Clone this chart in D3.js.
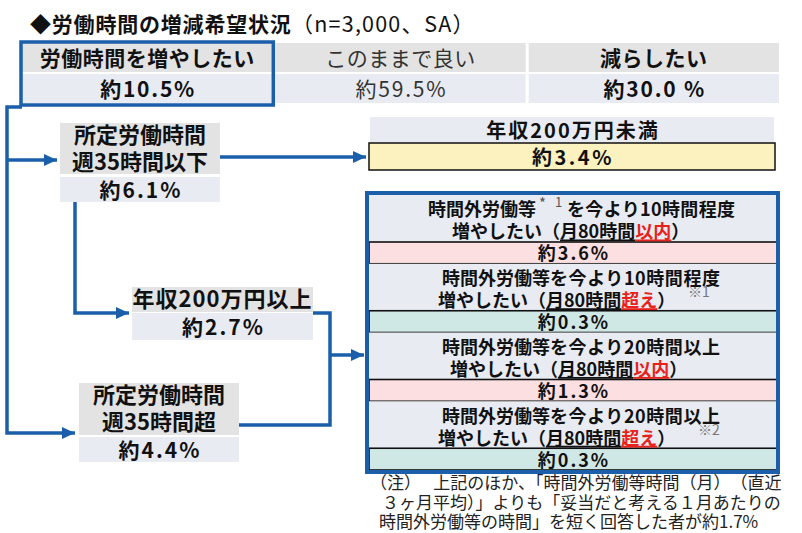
<!DOCTYPE html>
<html>
<head>
<meta charset="utf-8">
<script src="https://cdn.jsdelivr.net/npm/d3@7"></script>
<style>
  html, body { margin: 0; padding: 0; background: #fff; }
  svg { display: block; font-family: "Noto Sans CJK JP", "Noto Sans", sans-serif; }
</style>
</head>
<body>
<div id="chart"></div>
<script>
// Chart values
const titleMain = "◆労働時間の増減希望状況";
const titleSub = "（n=3,000、SA）";

const topLabels = ["労働時間を増やしたい", "このままで良い", "減らしたい"];
const topValues = [10.5, 59.5, 30.0];
const topBold = [true, false, true];
const topPctGap = ["", "", " "];

const branchLabels = [["所定労働時間", "週35時間以下"], ["年収200万円以上"], ["所定労働時間", "週35時間超"]];
const branchValues = [6.1, 2.7, 4.4];

const lowIncomeLabel = "年収200万円未満";
const lowIncomeValue = 3.4;

const wishHours = ["10時間程度", "10時間程度", "20時間以上", "20時間以上"];
const wishLimit = ["以内", "超え", "以内", "超え"];
const wishValues = [3.6, 0.3, 1.3, 0.3];
const wishNotes = ["", "※1", "", "※2"];

const noteLines = [
  "（注）　 上記のほか、「時間外労働等時間（月）　（直近",
  "３ヶ月平均）」よりも「妥当だと考える１月あたりの",
  "時間外労働等の時間」を短く回答した者が約1.7%"
];

///////////////////////////////////////////
// Layout
const W = 802, H = 533;
const blue = "#1b5fab";
const headGray = "#e3e3e3";
const valGray = "#e8ebf2";
const pink = "#fcdfe1";
const teal = "#cfe8e6";
const yellow = "#fcf2bf";
const red = "#e8221b";

const pct = (v, gap) => "約" + d3.format(".1f")(v) + (gap || "") + "%";
// baseline from a visual centre line (CJK glyph box)
const base = (cy, fs) => cy + 0.36 * fs;

const svg = d3.select("#chart").append("svg")
  .attr("width", W).attr("height", H);

svg.append("defs").append("marker")
  .attr("id", "arrow")
  .attr("markerUnits", "userSpaceOnUse")
  .attr("markerWidth", 13).attr("markerHeight", 12)
  .attr("refX", 13).attr("refY", 6)
  .attr("orient", "auto")
  .append("path")
  .attr("d", "M0,0 L13,6 L0,12 Z")
  .attr("fill", blue);

// Title
const title = svg.append("text")
  .attr("x", 30).attr("y", base(24, 21))
  .attr("font-size", 21).attr("fill", "#111");
title.append("tspan").attr("font-weight", 700).attr("letter-spacing", 0.8).text(titleMain);
title.append("tspan").attr("font-weight", 400).attr("font-size", 21.5).attr("letter-spacing", 1.2).text(titleSub);

////////////////////////////////
// Top table
const xTop = d3.scaleBand().domain(topLabels).range([22, 779]).paddingInner(0.012);
const topRows = { head: [43, 72], val: [74, 103] };

const topG = svg.append("g");
topLabels.forEach((lab, i) => {
  const x0 = xTop(lab), bw = xTop.bandwidth();
  topG.append("rect").attr("x", x0).attr("y", topRows.head[0])
    .attr("width", bw).attr("height", topRows.head[1] - topRows.head[0]).attr("fill", headGray);
  topG.append("rect").attr("x", x0).attr("y", topRows.val[0])
    .attr("width", bw).attr("height", topRows.val[1] - topRows.val[0]).attr("fill", valGray);
  const t = topG.append("text")
    .attr("text-anchor", "middle")
    .attr("font-size", 21).attr("font-weight", topBold[i] ? 700 : 400)
    .attr("fill", topBold[i] ? "#111" : "#333");
  t.append("tspan").attr("x", x0 + bw / 2).attr("y", base(58, 21)).attr("letter-spacing", 0.5).text(lab);
  t.append("tspan").attr("x", x0 + bw / 2 + 1).attr("y", base(89, 21)).attr("letter-spacing", 1.8)
    .text(pct(topValues[i], topPctGap[i]));
});
// highlight on "increase" column
topG.append("rect")
  .attr("x", xTop(topLabels[0]) - 1).attr("y", 42)
  .attr("width", xTop.bandwidth() + 2).attr("height", 63)
  .attr("fill", "none").attr("stroke", blue).attr("stroke-width", 3.5);

////////////////////////////////
// Branch boxes on the left
const branchBoxes = [
  { x: 60, w: 160, hy: 123, hh: 51, vy: 177, vh: 25 },
  { x: 132, w: 181, hy: 287, hh: 25, vy: 313, vh: 27 },
  { x: 79, w: 160, hy: 383, hh: 52, vy: 437, vh: 25 }
];

branchLabels.forEach((lines, i) => {
  const b = branchBoxes[i];
  const g = svg.append("g");
  g.append("rect").attr("x", b.x).attr("y", b.hy).attr("width", b.w).attr("height", b.hh).attr("fill", headGray);
  g.append("rect").attr("x", b.x).attr("y", b.vy).attr("width", b.w).attr("height", b.vh).attr("fill", valGray);
  const lh = 27;
  const cy = b.hy + b.hh / 2 - (lines.length - 1) * lh / 2;
  const t = g.append("text")
    .attr("text-anchor", "middle")
    .attr("font-size", 22).attr("font-weight", 700).attr("fill", "#111");
  lines.forEach((s, j) => {
    t.append("tspan").attr("x", b.x + b.w / 2).attr("y", base(cy + j * lh, 22))
      .attr("letter-spacing", lines.length === 1 ? 1 : 0).text(s);
  });
  t.append("tspan").attr("x", b.x + b.w / 2 + 1).attr("y", base(b.vy + b.vh / 2 + 1, 21))
    .attr("font-size", 21).attr("letter-spacing", 2).text(pct(branchValues[i]));
});

////////////////////////////////
// Low income box (top right)
const low = { x: 369, w: 406, hy: 117, hh: 26, vy: 143, vh: 27 };
svg.append("rect").attr("x", low.x + 1).attr("y", low.hy).attr("width", low.w - 2).attr("height", low.hh).attr("fill", valGray);
svg.append("rect").attr("x", low.x).attr("y", low.vy).attr("width", low.w).attr("height", low.vh)
  .attr("fill", yellow).attr("stroke", "#111").attr("stroke-width", 1.5);
const lowT = svg.append("text")
  .attr("text-anchor", "middle")
  .attr("font-size", 20).attr("font-weight", 700).attr("fill", "#111");
lowT.append("tspan").attr("x", low.x + low.w / 2 + 1).attr("y", base(low.hy + low.hh / 2 + 1, 20))
  .attr("letter-spacing", 2).text(lowIncomeLabel);
lowT.append("tspan").attr("x", low.x + low.w / 2 + 1).attr("y", base(low.vy + low.vh / 2 + 1, 20))
  .attr("letter-spacing", 2.5).text(pct(lowIncomeValue));

////////////////////////////////
// Wish box (overtime increase)
const wishX = 369, wishW = 408;
const yWish = d3.scaleBand().domain(d3.range(wishValues.length)).range([195, 470]);
const headH = 47;
const line1X = [59, 73, 73, 73];
const line2X = [83, 69, 81, 69];
const noteDX = [0, 688, 0, 698];

const wishG = svg.append("g");
wishValues.forEach((v, i) => {
  const y0 = yWish(i);
  const bh = yWish.bandwidth();
  const over = wishLimit[i] === "超え";
  wishG.append("rect").attr("x", wishX).attr("y", y0).attr("width", wishW).attr("height", headH).attr("fill", valGray);
  wishG.append("rect").attr("x", wishX).attr("y", y0 + headH).attr("width", wishW).attr("height", bh - headH)
    .attr("fill", over ? teal : pink).attr("stroke", "#111").attr("stroke-width", 1.6);

  const t = wishG.append("text")
    .attr("font-size", 18).attr("font-weight", 700).attr("fill", "#111");
  const y1 = base(y0 + 15, 18), y2 = base(y0 + 37, 18);

  // line 1
  t.append("tspan").attr("x", wishX + line1X[i]).attr("y", y1).text("時間外労働等");
  if (i === 0) {
    t.append("tspan").attr("x", wishX + line1X[i] + 111).attr("y", y1 - 7)
      .attr("font-size", 15).attr("font-weight", 400).attr("fill", "#555").text("*");
    t.append("tspan").attr("x", wishX + line1X[i] + 127).attr("y", y1 - 9)
      .attr("font-size", 13).attr("font-weight", 400).attr("fill", "#555").text("1");
    t.append("tspan").attr("x", wishX + line1X[i] + 139).attr("y", y1)
      .attr("textLength", 168).attr("lengthAdjust", "spacing")
      .text("を今より" + wishHours[i]);
  } else {
    t.append("tspan").attr("textLength", 170).attr("lengthAdjust", "spacing")
      .text("を今より" + wishHours[i]);
  }

  // line 2
  t.append("tspan").attr("x", wishX + line2X[i]).attr("y", y2).text("増やしたい（");
  t.append("tspan").attr("text-decoration", "underline").text("月80時間");
  t.append("tspan").attr("text-decoration", "underline").attr("fill", red).text(wishLimit[i]);
  t.append("tspan").text("）");
  if (wishNotes[i]) {
    t.append("tspan").attr("x", noteDX[i]).attr("y", y2 - 10)
      .attr("font-size", 14).attr("font-weight", 400).attr("fill", "#777").text(wishNotes[i]);
  }

  // value
  t.append("tspan").attr("text-anchor", "middle")
    .attr("x", wishX + wishW / 2 + 1).attr("y", base(y0 + headH + (bh - headH) / 2 + 1, 18))
    .attr("letter-spacing", 2).text(pct(v));
});
wishG.append("rect")
  .attr("x", wishX - 2).attr("y", 193)
  .attr("width", wishW + 3).attr("height", 279)
  .attr("fill", "none").attr("stroke", blue).attr("stroke-width", 4);

////////////////////////////////
// Connectors
const line = d3.line();
const b0 = branchBoxes[0], b1 = branchBoxes[1], b2 = branchBoxes[2];
const trunkX = 7, joinX = 330;
const connectors = [
  { pts: [[xTop(topLabels[0]), 107], [trunkX, 107], [trunkX, 433], [b2.x - 4, 433]], arrow: true },
  { pts: [[trunkX, 160], [b0.x - 3, 160]], arrow: true },
  { pts: [[b0.x + b0.w, 157], [low.x - 3, 157]], arrow: true },
  { pts: [[b0.x + 15, b0.vy + b0.vh], [b0.x + 15, 313], [b1.x - 3, 313]], arrow: true },
  { pts: [[b1.x + b1.w, 313], [joinX, 313], [joinX, 425], [b2.x + b2.w, 425]], arrow: false },
  { pts: [[joinX, 355], [wishX - 5, 355]], arrow: true }
];
svg.append("g").selectAll("path")
  .data(connectors)
  .enter()
  .append("path")
  .attr("d", d => line(d.pts))
  .attr("fill", "none")
  .attr("stroke", blue)
  .attr("stroke-width", 3.5)
  .attr("stroke-linejoin", "miter")
  .attr("marker-end", d => d.arrow ? "url(#arrow)" : null);

////////////////////////////////
// Note
const noteX = [370, 382, 379];
const noteY = [483, 503, 522];
const noteT = svg.append("text").attr("font-size", 17).attr("fill", "#222");
noteLines.forEach((s, i) => {
  noteT.append("tspan").attr("x", noteX[i]).attr("y", base(noteY[i], 17)).text(s);
});
</script>
</body>
</html>
